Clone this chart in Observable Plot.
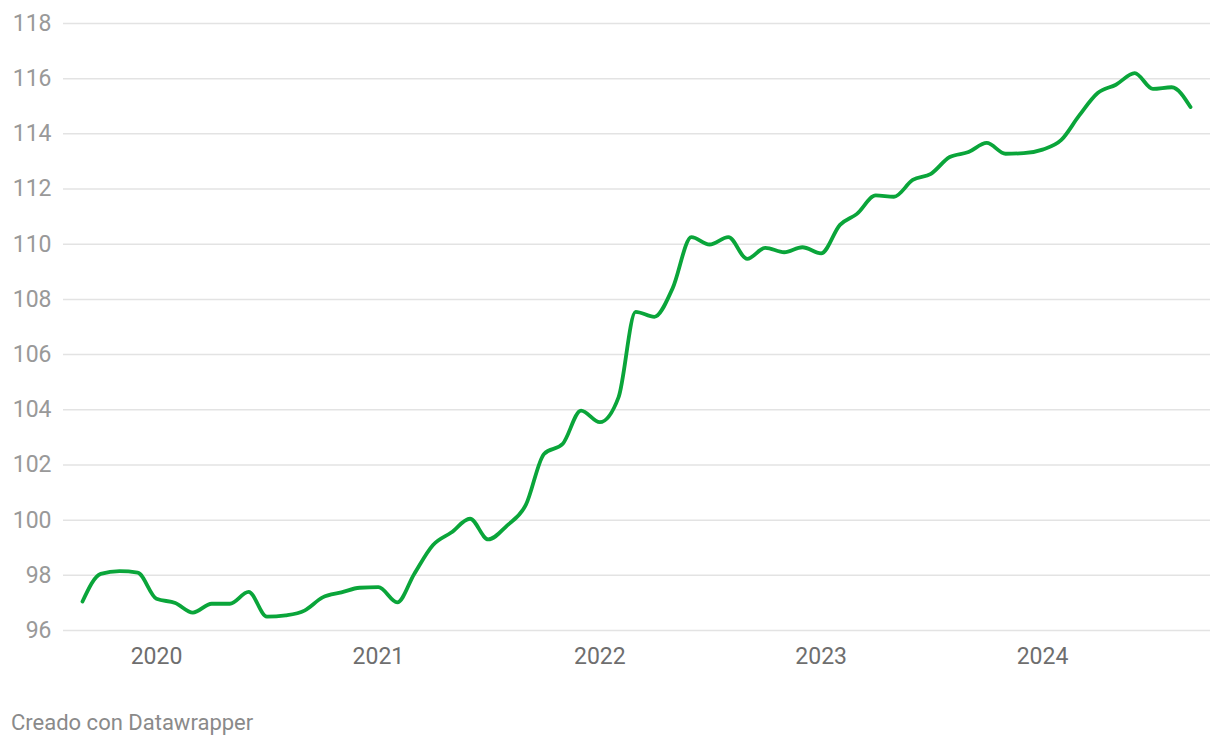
<!DOCTYPE html>
<html>
<head>
<meta charset="utf-8">
<script src="https://cdn.jsdelivr.net/npm/d3@7"></script>
<script src="https://cdn.jsdelivr.net/npm/@observablehq/plot@0.6"></script>
<style>
  html, body { margin: 0; padding: 0; background: #fff; }
  body { width: 1220px; height: 746px; overflow: hidden; font-family: Roboto, sans-serif; }
  #caption { position: absolute; left: 11px; top: 710px; font-size: 22px; color: #8a8a8a; font-family: Roboto, sans-serif; }
</style>
</head>
<body>
<div id="chart"></div>
<div id="caption">Creado con Datawrapper</div>
<script>
const startMonth = "2019-09";
const values = [
  97.05, 98.05, 98.15, 98.1,
  97.15, 97.0, 96.65, 96.97, 96.97, 97.4, 96.5, 96.55, 96.72, 97.2, 97.38, 97.55,
  97.57, 97.02, 98.05, 99.1, 99.55, 100.05, 99.3, 99.8, 100.55, 102.4, 102.77, 103.97,
  103.55, 104.46, 107.55, 107.37, 108.4, 110.26, 109.99, 110.26, 109.47, 109.87, 109.71, 109.89,
  109.67, 110.7, 111.1, 111.77, 111.72, 112.33, 112.55, 113.16, 113.34, 113.67, 113.28, 113.3,
  113.43, 113.78, 114.65, 115.48, 115.78, 116.2, 115.63, 115.69, 114.97
];
const yTicks = [96, 98, 100, 102, 104, 106, 108, 110, 112, 114, 116, 118];
const xTickYears = [2020, 2021, 2022, 2023, 2024];

const [sy, sm] = startMonth.split("-").map(Number);
const data = values.map((v, i) => ({ date: new Date(Date.UTC(sy, sm - 1 + i, 1)), value: v }));
const xTicks = xTickYears.map(y => new Date(Date.UTC(y, 0, 1)));

const chart = Plot.plot({
  width: 1220,
  height: 700,
  marginLeft: 63,
  marginRight: 10,
  marginTop: 23,
  marginBottom: 70,
  style: { fontFamily: "Roboto, sans-serif", fontSize: "23px", color: "#8c8c8c", background: "#fff" },
  x: { type: "utc", domain: [data[0].date, data[data.length - 1].date], range: [82, 1190] },
  y: { domain: [96, 118], range: [630, 23] },
  marks: [
    Plot.ruleY(yTicks, { stroke: "#e3e3e3", strokeWidth: 1.5 }),
    Plot.axisY(yTicks, { tickSize: 0, tickPadding: 12, label: null, fill: "#999" }),
    Plot.axisX(xTicks, { tickSize: 0, tickPadding: 17, label: null, tickFormat: d3.utcFormat("%Y"), fill: "#6e6e6e" }),
    Plot.line(data, { x: "date", y: "value", stroke: "#0aa53a", strokeWidth: 3.8, curve: "monotone-x" })
  ]
});
document.getElementById("chart").appendChild(chart);
</script>
</body>
</html>
